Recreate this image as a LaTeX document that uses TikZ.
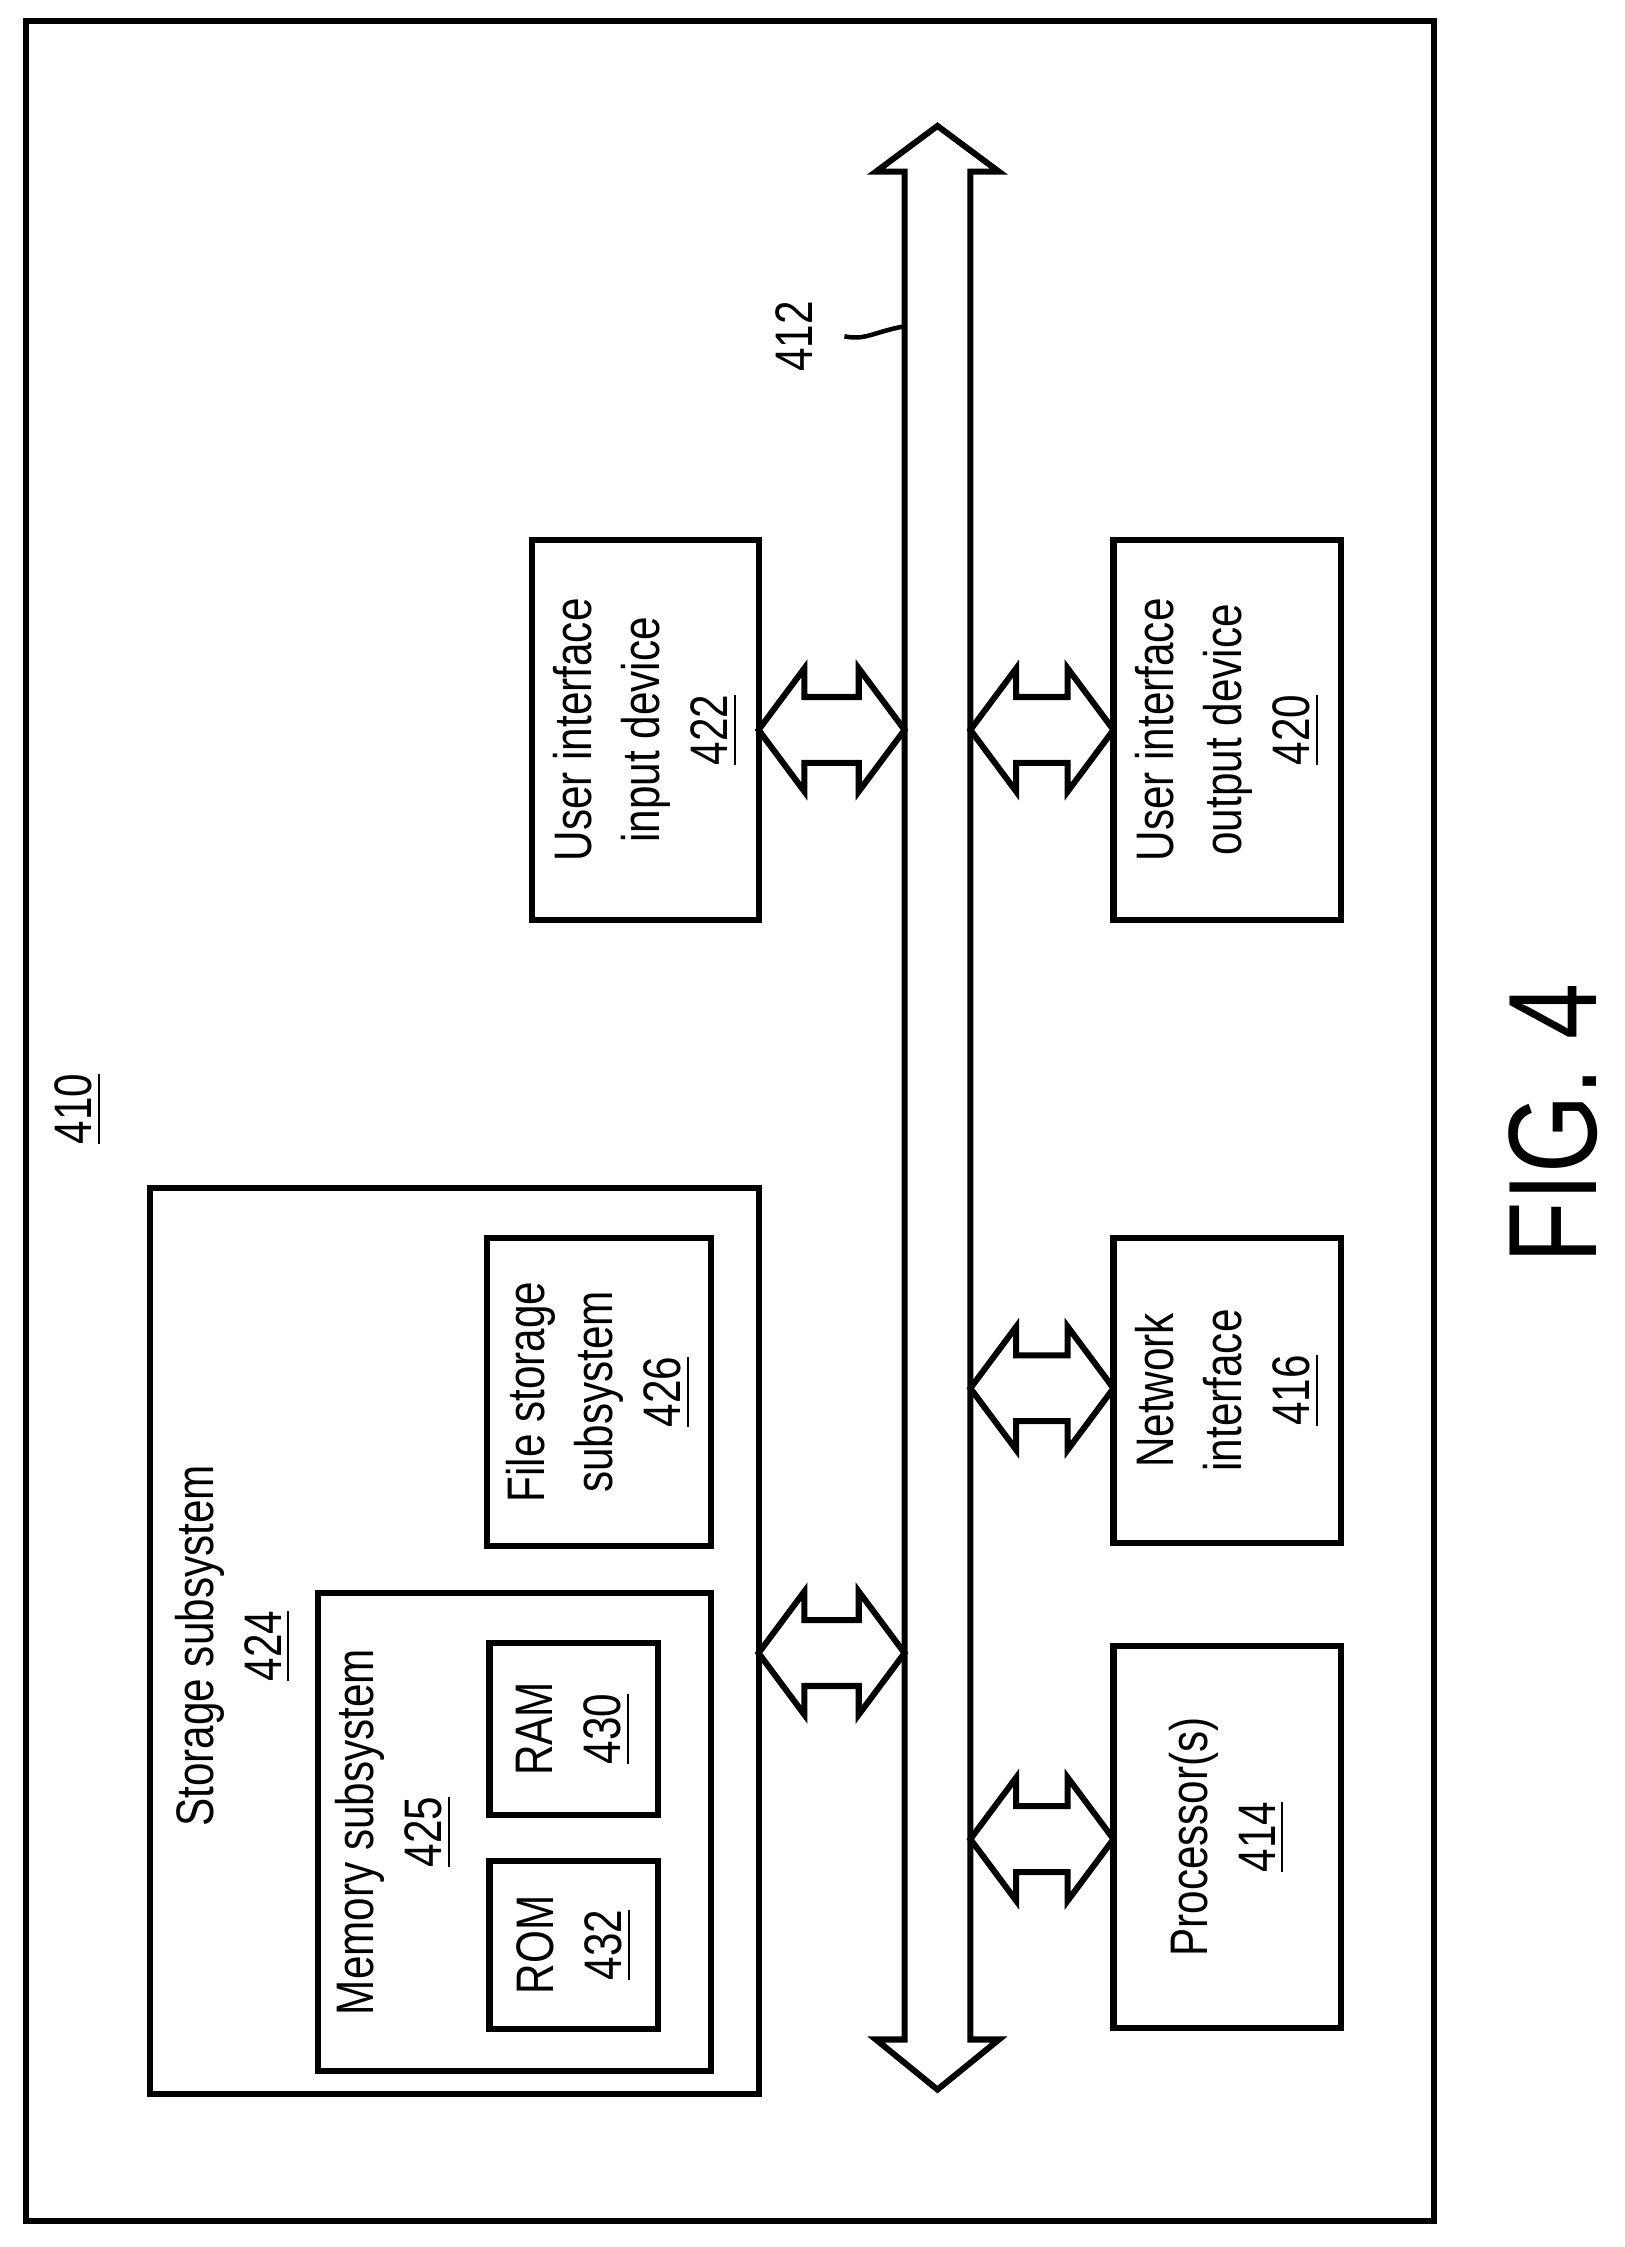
\documentclass[tikz,border=0pt]{standalone}
\usepackage{fontspec}
\setmainfont{Liberation Sans}[FakeStretch=0.8]
\usetikzlibrary{calc}
\begin{document}
\begin{tikzpicture}[x=0.1mm,y=-0.1mm,line width=1.2pt]
% block style definition
\tikzstyle{block} = [draw, rectangle, inner sep=0pt];
\tikzstyle{txt} = [rotate=90, align=center, font=\fontsize{10.5}{13.5}\selectfont];
% horizontal double block arrow: x1, x2, y
\newcommand{\harrow}[3]{%
  \draw (#1,#3) -- (#1+32,#3-43) -- (#1+32,#3-23) -- (#2-32,#3-23) -- (#2-32,#3-43)
    -- (#2,#3) -- (#2-32,#3+43) -- (#2-32,#3+23) -- (#1+32,#3+23) -- (#1+32,#3+43) -- cycle;}
\useasboundingbox (0,0) rectangle (1135,1570);
\node[block, minimum width=984*0.1mm, minimum height=1537*0.1mm] (frame) at (510,783.5) {};
\node[txt] (lbl410) at (55,775) {\underline{410}};
% bus
\draw (655,88) -- (698,120) -- (678,120) -- (678,1425) -- (698,1425) -- (655,1460)
  -- (612,1425) -- (632,1425) -- (632,120) -- (612,120) -- cycle;
\coordinate (bus) at (632,228);
\node[txt] (lbl412) at (555,235) {412};
\draw[line width=0.9pt] (bus) .. controls (610,232) and (605,238) .. (590,235);
% right side
\node[block, minimum width=15.9mm, minimum height=26.6mm] (uiin) at (451,510) {};
\node[txt] at (uiin) {User interface\\input device\\\underline{422}};
\node[block, minimum width=15.9mm, minimum height=26.6mm] (uiout) at (857.5,510) {};
\node[txt] at (uiout) {User interface\\output device\\\underline{420}};
\node[block, minimum width=15.9mm, minimum height=21.3mm] (net) at (857.5,971.5) {};
\node[txt] at (net) {Network\\interface\\\underline{416}};
\node[block, minimum width=15.9mm, minimum height=26.7mm] (proc) at (857.5,1283.5) {};
\node[txt] at (proc) {Processor(s)\\\underline{414}};
% storage
\node[block, minimum width=42.5mm, minimum height=63.3mm] (stor) at (317.5,1146.5) {};
\node[txt] (lblstor) at (163,1150) {Storage subsystem\\\underline{424}};
\node[block, minimum width=15.7mm, minimum height=21.5mm] (file) at (418.5,972.5) {};
\node[txt] at (file) {File storage\\subsystem\\\underline{426}};
\node[block, minimum width=27.5mm, minimum height=33.4mm] (mem) at (359.5,1280) {};
\node[txt] (lblmem) at (275,1280) {Memory subsystem\\\underline{425}};
\node[block, minimum width=11.8mm, minimum height=12mm] (ram) at (401,1208) {};
\node[txt] at (ram) {RAM\\\underline{430}};
\node[block, minimum width=11.8mm, minimum height=11.8mm] (rom) at (401,1359) {};
\node[txt] at (rom) {ROM\\\underline{432}};
% connectors
\harrow{530}{632}{510}
\harrow{678}{778}{510}
\harrow{678}{778}{970}
\harrow{530}{632}{1155}
\harrow{678}{778}{1285}
\node[rotate=90, font=\fontsize{25}{30}\selectfont] (fig) at (1085,785) {FIG. 4};
\end{tikzpicture}
\end{document}
